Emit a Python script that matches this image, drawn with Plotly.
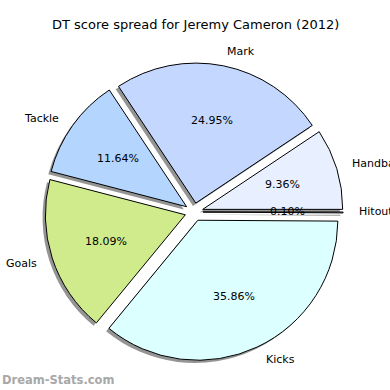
import math
import plotly.graph_objects as go

labels = ["Hitout", "Handball", "Mark", "Tackle", "Goals", "Kicks"]
values = [0.10, 9.36, 24.95, 11.64, 18.09, 35.86]
colors = ["#f4f8ff", "#e8effe", "#c4d8ff", "#b4d5fe", "#d0eb8c", "#dcffff"]
title = "DT score spread for Jeremy Cameron (2012)"

W = H = 390
CX, CY = 194, 212      # pie centre, pixels from top-left
R = 140                # radius in pixels
PULL = 0.065
SH = 2.8               # shadow offset in pixels

half = R * (1 + PULL)

def dom(cx, cy):
    return dict(x=[(cx - half) / W, (cx + half) / W],
                y=[1 - (cy + half) / H, 1 - (cy - half) / H])

fig = go.Figure()
# shadow
fig.add_trace(go.Pie(
    values=values, labels=labels, sort=False, direction="counterclockwise",
    rotation=90, pull=[PULL] * len(values), textinfo="none", hoverinfo="skip",
    marker=dict(colors=["rgba(0,0,0,0.42)"] * len(values), line=dict(width=0)),
    domain=dom(CX - SH, CY + SH), showlegend=False))
# pie
fig.add_trace(go.Pie(
    values=values, labels=labels, sort=False, direction="counterclockwise",
    rotation=90, pull=[PULL] * len(values), textinfo="none",
    marker=dict(colors=colors, line=dict(color="black", width=1)),
    domain=dom(CX, CY), showlegend=False))

total = sum(values)
ann = []
start = 0.0
for lab, v in zip(labels, values):
    span = 360.0 * v / total
    mid = math.radians(start + span / 2)
    start += span
    ox = CX + PULL * R * math.cos(mid)
    oy = CY - PULL * R * math.sin(mid)
    # percent
    px = ox + 0.6 * R * math.cos(mid)
    py = oy - 0.6 * R * math.sin(mid)
    ann.append(dict(x=px / W, y=1 - py / H, xref="paper", yref="paper",
                    text=f"{v:.2f}%", showarrow=False, xanchor="center",
                    yanchor="middle", font=dict(size=11, color="black")))
    lx = ox + 1.1 * R * math.cos(mid)
    ly = oy - 1.1 * R * math.sin(mid)
    ann.append(dict(x=lx / W, y=1 - ly / H, xref="paper", yref="paper",
                    text=lab, showarrow=False,
                    xanchor="left" if math.cos(mid) > 0 else "right",
                    yanchor="middle", font=dict(size=11, color="black")))

ann.append(dict(x=195 / W, y=1 - 25 / H, xref="paper", yref="paper",
                text=title, showarrow=False, xanchor="center", yanchor="middle",
                font=dict(size=13, color="black")))
ann.append(dict(x=0, y=1 - 380 / H, xref="paper", yref="paper",
                text="<b>Dream-Stats.com</b>", showarrow=False, xanchor="left",
                yanchor="middle", font=dict(size=11.5, color="#a8a8a8")))

fig.update_layout(width=W, height=H, margin=dict(l=0, r=0, t=0, b=0),
                  paper_bgcolor="white", plot_bgcolor="white",
                  font=dict(family="DejaVu Sans"), annotations=ann)
fig.write_html("out.html", config={"displayModeBar": False},
               post_script="document.body.style.margin='0';document.body.style.overflow='hidden';")
